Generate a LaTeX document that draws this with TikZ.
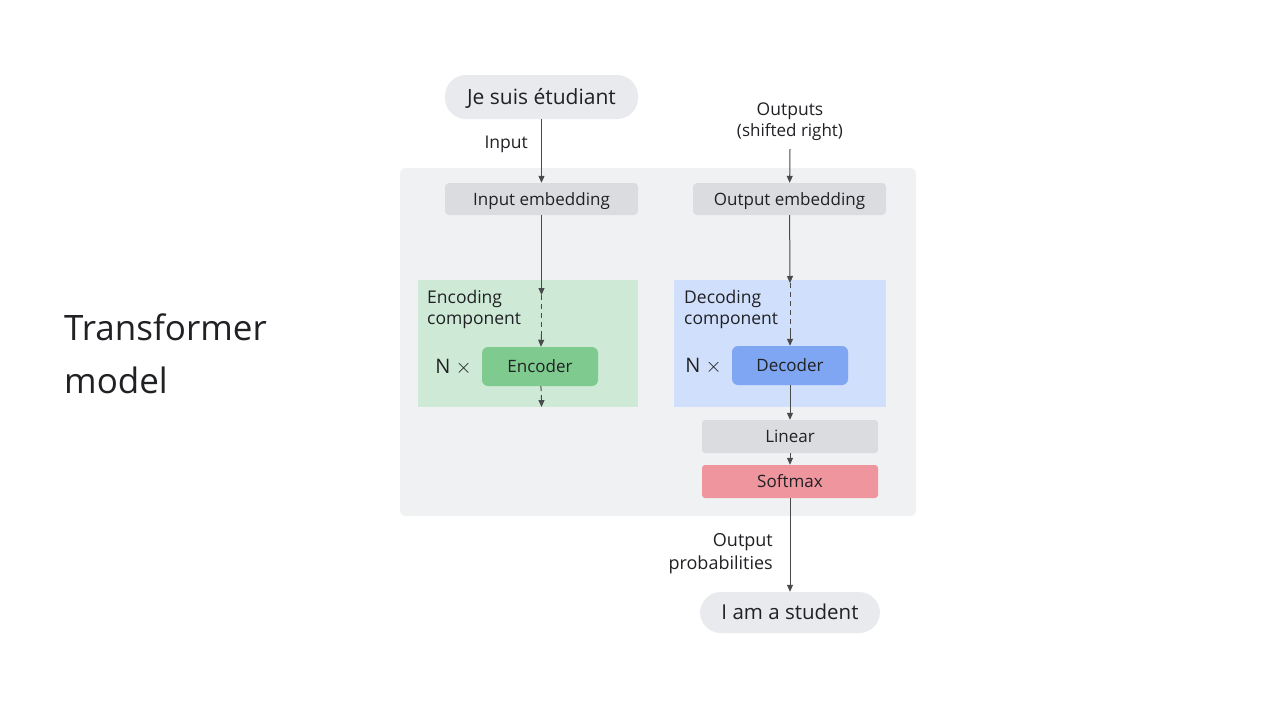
\documentclass[tikz,border=0pt]{standalone}
\usepackage{fontspec}
\setmainfont{Open Sans}
\usetikzlibrary{arrows.meta}
\definecolor{panelc}{HTML}{F0F1F3}
\definecolor{pillc}{HTML}{E8EAED}
\definecolor{embc}{HTML}{DADCE0}
\definecolor{greenbox}{HTML}{CEEAD6}
\definecolor{encc}{HTML}{7FCB8F}
\definecolor{bluebox}{HTML}{D0DFFB}
\definecolor{decc}{HTML}{7FA6F2}
\definecolor{softc}{HTML}{EE959E}
\definecolor{arrowc}{HTML}{4A4A4A}
\definecolor{txtc}{HTML}{202124}
\tikzset{
  lbl/.style={font=\fontsize{17.5}{21}\selectfont, text=txtc, inner sep=0pt},
  pill/.style={fill=pillc, rounded corners=21pt, font=\fontsize{20.5}{24}\selectfont, text=txtc, inner sep=0pt, text height=14.6pt, text depth=0pt},
  emb/.style={fill=embc, rounded corners=4pt, minimum width=193pt, minimum height=32pt, font=\fontsize{17}{20}\selectfont, text=txtc, inner sep=0pt, text height=12.1pt, text depth=0pt},
  block/.style={rounded corners=6pt, minimum width=116pt, minimum height=39pt, font=\fontsize{17}{20}\selectfont, text=txtc, inner sep=0pt, text height=12.1pt, text depth=0pt},
  comp/.style={minimum width=220pt, minimum height=127pt, inner sep=0pt},
  arr/.style={draw=arrowc, line width=1pt, -{Triangle[length=7pt,width=6pt]}},
  dsh/.style={draw=arrowc, line width=1pt, dash pattern=on 5pt off 4pt},
}
\begin{document}
\begin{tikzpicture}[x=1pt,y=-1pt]
\useasboundingbox (0,0) rectangle (1280,720);
\fill[white] (0,0) rectangle (1280,720);

% title
\node[anchor=base west, font=\fontsize{35}{53}\selectfont, text=txtc, inner sep=0pt] (t1) at (64,340) {Transformer};
\node[anchor=base west, font=\fontsize{35}{53}\selectfont, text=txtc, inner sep=0pt] (t2) at (64,393) {model};

% panel
\node[fill=panelc, rounded corners=5pt, minimum width=516pt, minimum height=348pt, inner sep=0pt] (panel) at (658,342) {};

% input side
\node[pill, minimum width=193pt, minimum height=44pt, font=\fontsize{21}{24}\selectfont, text height=15pt] (src) at (541.5,97) {Je suis étudiant};
\node[lbl, anchor=east] (inlbl) at (528,144) {Input};
\node[emb] (inemb) at (541.5,199) {Input embedding};
\node[comp, fill=greenbox] (encbox) at (528,343.5) {};
\node[lbl, anchor=north west, align=left, font=\fontsize{17.5}{21}\selectfont] (enclbl) at (427,290) {Encoding\\component};
\node[block, fill=encc] (enc) at (540,366.5) {Encoder};
\node[anchor=east, font=\fontsize{20}{24}\selectfont, text=txtc, inner sep=0pt] (nx1) at (472,367.5) {N $\times$};
\coordinate (e1) at (541.5,295);
\coordinate (e2) at (541.5,334);
\coordinate (e3) at (541.5,399);
\coordinate (e4) at (541.5,407);

% output side
\node[lbl, align=center] (outlbl) at (790,111) {Outputs};
\node[lbl, font=\fontsize{17}{20}\selectfont] (shift) at (790,132) {(shifted right)};
\coordinate (o0) at (790,149);
\node[emb] (outemb) at (789.5,199) {Output embedding};
\node[comp, minimum width=212pt, fill=bluebox] (decbox) at (780,343.5) {};
\node[lbl, anchor=north west, align=left, font=\fontsize{17.5}{21}\selectfont] (declbl) at (684,290) {Decoding\\component};
\node[block, fill=decc] (dec) at (790,365.5) {Decoder};
\node[anchor=east, font=\fontsize{20}{24}\selectfont, text=txtc, inner sep=0pt] (nx2) at (722,366.5) {N $\times$};
\coordinate (d1) at (790,283);
\coordinate (d2) at (790,333);
\node[emb, minimum width=176pt, minimum height=33pt, rounded corners=3pt] (lin) at (790,436.5) {Linear};
\node[emb, minimum width=176pt, minimum height=33pt, rounded corners=3pt, fill=softc] (soft) at (790,481.5) {Softmax};
\node[lbl, anchor=east, align=right, font=\fontsize{18}{23}\selectfont] (problbl) at (773,554) {Output\\probabilities};
\node[pill, minimum width=180pt, minimum height=41pt] (tgt) at (790,612.5) {I am a student};

% connectors
\draw[arr] (src) -- (inemb);
\draw[arr] (inemb) -- (e1);
\draw[dsh] (e1) -- (e2);
\draw[arr] (e2) -- (enc);
\draw[dsh] (enc) -- (e3);
\draw[arr] (e3) -- (e4);

\draw[arr] (o0) -- (outemb);
\draw[arr] (outemb) -- (d1);
\draw[dsh] (d1) -- (d2);
\draw[arr] (d2) -- (dec);
\draw[arr] (dec) -- (lin);
\draw[arr] (lin) -- (soft);
\draw[arr] (soft) -- (tgt);
\end{tikzpicture}
\end{document}
